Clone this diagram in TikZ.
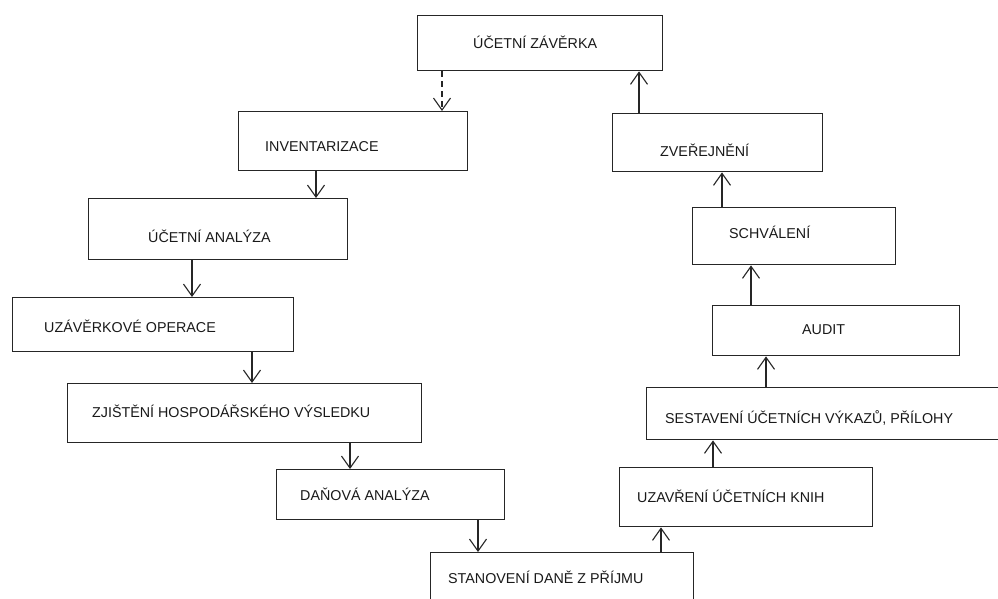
\documentclass[tikz,border=0pt]{standalone}
\usepackage{fontspec}
\setmainfont{Liberation Sans}
\usetikzlibrary{arrows.meta}
\tikzset{
  box/.style={draw=black!85, line width=1.4pt, rectangle, inner sep=0pt, anchor=north west},
  lbl/.style={anchor=base west, inner sep=0pt, text=black!90, font=\fontsize{14.3}{16}\selectfont},
  arr/.style={draw=black!85, line width=1.2pt, -{Straight Barb[length=12pt,width=17pt,line width=1.1pt]}},
  dasharr/.style={arr, dash pattern=on 6pt off 4pt}
}
\begin{document}
\begin{tikzpicture}[x=1pt,y=-1pt]
\useasboundingbox (0,0) rectangle (998,598);
\clip (0,0) rectangle (998,598);
\fill[white] (0,0) rectangle (998,598);
% boxes
\node[box, minimum width=245pt, minimum height=55pt] (zav) at (417,15) {};
\node[box, minimum width=229pt, minimum height=59pt] (inv) at (238,111) {};
\node[box, minimum width=210pt, minimum height=58pt] (zve) at (612,113) {};
\node[box, minimum width=259pt, minimum height=61pt] (ana) at (88,198) {};
\node[box, minimum width=203pt, minimum height=57pt] (sch) at (692,207) {};
\node[box, minimum width=281pt, minimum height=54pt] (uzo) at (12,297) {};
\node[box, minimum width=247pt, minimum height=50pt] (aud) at (712,305) {};
\node[box, minimum width=354pt, minimum height=59pt] (zji) at (67,383) {};
\node[box, minimum width=370pt, minimum height=52pt] (ses) at (646,387) {};
\node[box, minimum width=228pt, minimum height=50pt] (dan) at (276,469) {};
\node[box, minimum width=253pt, minimum height=59pt] (uza) at (619,467) {};
\node[box, minimum width=263pt, minimum height=70pt] (sta) at (430,552) {};
% labels
\node[lbl] (zavt) at (473,48) {ÚČETNÍ ZÁVĚRKA};
\node[lbl] (invt) at (265,151) {INVENTARIZACE};
\node[lbl] (zvet) at (660,156) {ZVEŘEJNĚNÍ};
\node[lbl] (anat) at (148,242) {ÚČETNÍ ANALÝZA};
\node[lbl] (scht) at (729,238) {SCHVÁLENÍ};
\node[lbl] (uzot) at (44,332) {UZÁVĚRKOVÉ OPERACE};
\node[lbl] (audt) at (802,334) {AUDIT};
\node[lbl] (zjit) at (92,417) {ZJIŠTĚNÍ HOSPODÁŘSKÉHO VÝSLEDKU};
\node[lbl] (sest) at (665,423) {SESTAVENÍ ÚČETNÍCH VÝKAZŮ, PŘÍLOHY};
\node[lbl] (dant) at (300,500) {DAŇOVÁ ANALÝZA};
\node[lbl] (uzat) at (637,502) {UZAVŘENÍ ÚČETNÍCH KNIH};
\node[lbl] (stat) at (448,583) {STANOVENÍ DANĚ Z PŘÍJMU};
% connectors
\draw[dasharr] (zav.south -| 442,0) -- (inv.north -| 442,0);
\draw[arr] (inv.south -| 316,0) -- (ana.north -| 316,0);
\draw[arr] (ana.south -| 192,0) -- (uzo.north -| 192,0);
\draw[arr] (uzo.south -| 252,0) -- (zji.north -| 252,0);
\draw[arr] (zji.south -| 350,0) -- (dan.north -| 350,0);
\draw[arr] (dan.south -| 478,0) -- (sta.north -| 478,0);
\draw[arr] (sta.north -| 661,0) -- (uza.south -| 661,0);
\draw[arr] (uza.north -| 713,0) -- (ses.south -| 713,0);
\draw[arr] (ses.north -| 766,0) -- (aud.south -| 766,0);
\draw[arr] (aud.north -| 751,0) -- (sch.south -| 751,0);
\draw[arr] (sch.north -| 722,0) -- (zve.south -| 722,0);
\draw[arr] (zve.north -| 639,0) -- (zav.south -| 639,0);
\end{tikzpicture}
\end{document}
